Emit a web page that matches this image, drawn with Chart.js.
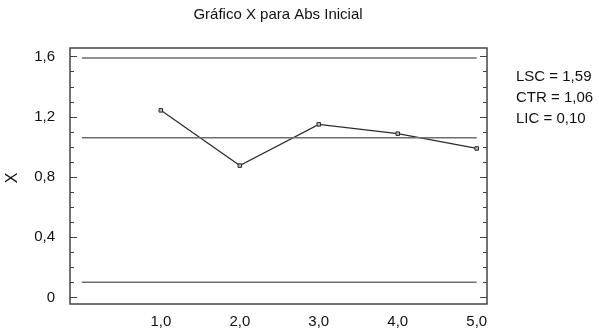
<!DOCTYPE html>
<html>
<head>
<meta charset="utf-8">
<script src="https://cdn.jsdelivr.net/npm/chart.js@4"></script>
<style>
  body { margin: 0; background: #fff; }
  #wrap { width: 599px; height: 332px; }
</style>
</head>
<body>
<div id="wrap"><canvas id="xChart"></canvas></div>
<script>
// data
const samples = [1, 2, 3, 4, 5];
const xValues = [1.242, 0.875, 1.149, 1.087, 0.989];
const limitNames = ["LSC", "CTR", "LIC"];
const limitValues = [1.59, 1.06, 0.10];
const limitSpan = [0, 5];
const yTicks = [0, 0.4, 0.8, 1.2, 1.6];
const xTicks = [1, 2, 3, 4, 5];

const fontFam = '"Liberation Sans", Arial, sans-serif';
const fmt = (v, d) => v.toFixed(d).replace(".", ",");

const mainData = samples.map((s, i) => ({ x: s, y: xValues[i] }));

const limitSets = limitValues.map((v, i) => ({
    label: limitNames[i],
    data: limitSpan.map(x => ({ x: x, y: v })),
    borderColor: '#6e6e6e',
    borderWidth: 1.5,
    pointRadius: 0,
    fill: false
}));

// frame, inside ticks, title and limit labels
const framePlugin = {
    id: 'frame',
    afterDraw(chart) {
        const ctx = chart.ctx;
        const a = chart.chartArea;
        const ys = chart.scales.y;
        ctx.save();
        ctx.strokeStyle = '#444';
        ctx.lineWidth = 1.5;
        ctx.strokeRect(a.left, a.top, a.right - a.left, a.bottom - a.top);
        ctx.lineWidth = 1;
        for (let k = 0; k <= 16; k++) {
            const v = k / 10;
            const y = Math.round(ys.getPixelForValue(v)) + 0.5;
            const len = (k % 4 === 0) ? 7 : 4;
            ctx.beginPath();
            ctx.moveTo(a.left, y); ctx.lineTo(a.left + len, y);
            ctx.moveTo(a.right, y); ctx.lineTo(a.right - len, y);
            ctx.stroke();
        }
        ctx.fillStyle = '#111';
        ctx.font = '15px ' + fontFam;
        ctx.textAlign = 'center';
        ctx.textBaseline = 'middle';
        ctx.fillText('Gráfico X para Abs Inicial', 278, 15);
        ctx.save();
        ctx.translate(13, 178);
        ctx.rotate(-Math.PI / 2);
        ctx.font = '16px ' + fontFam;
        ctx.fillText('X', 0, 0);
        ctx.restore();
        ctx.textAlign = 'left';
        ctx.font = '15px ' + fontFam;
        limitNames.forEach((n, i) => {
            ctx.fillText(n + ' = ' + fmt(limitValues[i], 2), 516, 77 + i * 21);
        });
        ctx.restore();
    }
};

new Chart(document.getElementById('xChart'), {
    type: 'line',
    data: {
        datasets: [
            ...limitSets,
            {
                label: 'X',
                data: mainData,
                borderColor: '#2b2b2b',
                borderWidth: 1.2,
                pointStyle: 'rect',
                pointRadius: 2.5,
                pointBorderColor: '#2b2b2b',
                pointBackgroundColor: '#bbb',
                pointBorderWidth: 1,
                tension: 0,
                fill: false
            }
        ]
    },
    options: {
        responsive: true,
        maintainAspectRatio: false,
        animation: false,
        layout: { padding: { left: 0, right: 112, top: 48, bottom: 0 } },
        plugins: {
            legend: { display: false },
            tooltip: { enabled: false }
        },
        scales: {
            x: {
                type: 'linear',
                min: -0.15,
                max: 5.13,
                afterFit: s => { s.height = 28; },
                afterBuildTicks: s => { s.ticks = xTicks.map(v => ({ value: v })); },
                grid: { display: false },
                border: { display: false },
                ticks: {
                    color: '#111',
                    padding: 1,
                    maxRotation: 0,
                    font: { family: fontFam, size: 15 },
                    callback: v => fmt(v, 1)
                }
            },
            y: {
                min: -0.044,
                max: 1.656,
                afterFit: s => { s.width = 70; },
                afterBuildTicks: s => { s.ticks = yTicks.map(v => ({ value: v })); },
                grid: { display: false },
                border: { display: false },
                ticks: {
                    color: '#111',
                    padding: 7,
                    font: { family: fontFam, size: 15 },
                    callback: v => fmt(v, 1).replace(/^0,0$/, '0')
                }
            }
        }
    },
    plugins: [framePlugin]
});
</script>
</body>
</html>
